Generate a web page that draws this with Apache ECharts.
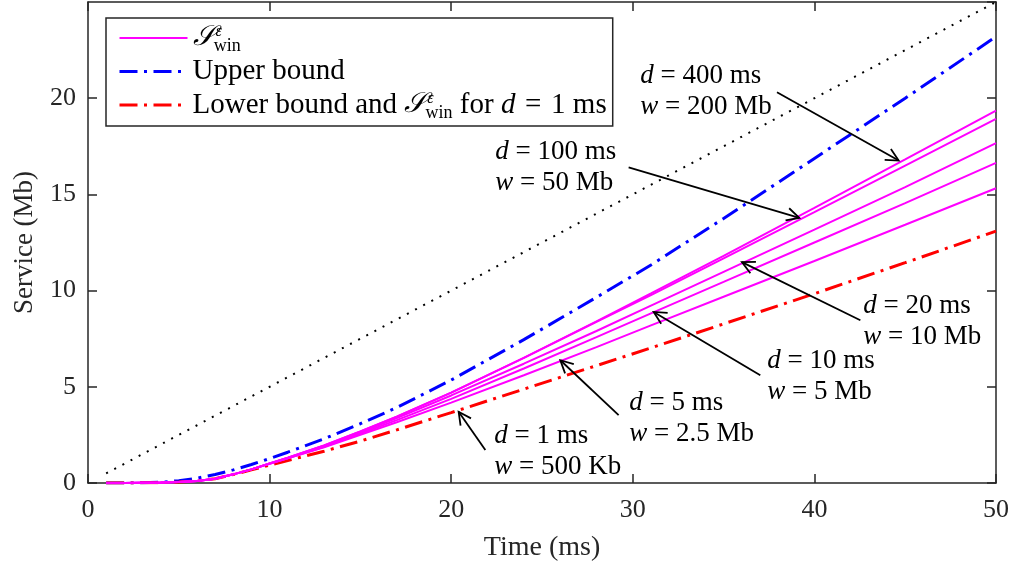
<!DOCTYPE html>
<html><head><meta charset="utf-8">
<script src="https://cdn.jsdelivr.net/npm/echarts@6/dist/echarts.min.js"></script>
<style>html,body{margin:0;padding:0;background:#fff}#c{width:1014px;height:567px}</style>
</head><body><div id="c"></div>
<script>
// ---- data ----
const timeMs     = [1,2,3,4,5,6,7,8,9,10,11,13,15,17,20,24,28,31,35,40,45,50];
const upperBound = [0,0,0.01,0.04,0.12,0.25,0.44,0.68,0.96,1.27,1.6,2.3,3.08,3.92,5.35,7.45,9.65,11.33,13.75,16.87,20.0,23.2];
const lowerBound = [0,0,0.01,0.02,0.05,0.11,0.22,0.44,0.68,0.93,1.17,1.65,2.18,2.76,3.66,4.88,6.1,7.02,8.27,9.84,11.45,13.09];
const swinD5     = [0,0,0.01,0.02,0.05,0.11,0.22,0.45,0.71,1.0,1.28,1.85,2.5,3.16,4.18,5.6,7.06,8.19,9.68,11.54,13.42,15.32];
const swinD10    = [0,0,0.01,0.02,0.05,0.11,0.22,0.45,0.71,1.0,1.29,1.88,2.56,3.27,4.37,5.95,7.58,8.82,10.45,12.5,14.55,16.64];
const swinD20    = [0,0,0.01,0.02,0.05,0.11,0.22,0.45,0.71,1.01,1.3,1.92,2.62,3.37,4.55,6.2,7.9,9.22,10.97,13.17,15.38,17.66];
const swinD100   = [0,0,0.01,0.02,0.05,0.11,0.22,0.45,0.71,1.02,1.32,1.95,2.68,3.45,4.7,6.5,8.37,9.76,11.68,14.08,16.5,18.93];
const swinD400   = [0,0,0.01,0.02,0.05,0.11,0.22,0.45,0.71,1.02,1.32,1.95,2.68,3.45,4.7,6.5,8.4,9.85,11.8,14.3,16.82,19.36];
const rateLineX  = [1, 50];
const rateLineY  = [0.5, 25];
const xTickStep = 10, yTickStep = 5;
const xRange = [0, 50], yRange = [0, 25];

// annotations: label text, label anchor (data coords, left/middle), arrow start and tip (data coords)
const annLabels = [['400 ms','200 Mb'],['100 ms','50 Mb'],['20 ms','10 Mb'],['10 ms','5 Mb'],['5 ms','2.5 Mb'],['1 ms','500 Kb']];
const annText   = [[30.41,20.37],[22.43,16.40],[42.69,8.38],[37.41,5.53],[29.81,3.35],[22.37,1.66]];
const annFrom   = [[37.94,20.31],[29.77,16.41],[42.53,8.46],[37.02,5.60],[29.22,3.53],[21.88,1.71]];
const annTip    = [[44.64,16.76],[39.17,13.78],[36.01,11.48],[31.15,8.89],[26.01,6.38],[20.41,3.70]];

// ---- chart ----
const FONT = 'Liberation Serif';
const AX = '#262626';
const pairs = arr => timeMs.map((t, i) => [t, arr[i]]);
const chart = echarts.init(document.getElementById('c'), null, {renderer: 'canvas'});

const swinSeries = [swinD5, swinD10, swinD20, swinD100, swinD400].map(a => ({
  name: 'Swin', type: 'line', data: pairs(a), symbol: 'none', smooth: false,
  lineStyle: {color: '#ff00ff', width: 2, type: 'solid'}, itemStyle: {color: '#ff00ff'}, z: 5
}));

const baseAxisX = {
  type: 'value', min: xRange[0], max: xRange[1], interval: xTickStep,
  axisLine: {show: true, onZero: false, lineStyle: {color: AX, width: 1.5}},
  axisTick: {show: true, inside: true, length: 9, lineStyle: {color: AX, width: 1.5}},
  splitLine: {show: false}
};
const baseAxisY = {
  type: 'value', min: yRange[0], max: yRange[1], interval: yTickStep,
  axisLine: {show: true, onZero: false, lineStyle: {color: AX, width: 1.5}},
  axisTick: {show: true, inside: true, length: 9, lineStyle: {color: AX, width: 1.5}},
  splitLine: {show: false}
};

const LFS = 29;
const sRich = {
  S:   {fontFamily: 'DejaVu Serif', fontStyle: 'italic', fontSize: 28, lineHeight: 34, verticalAlign: 'middle', color: '#000'},
  sup: {fontFamily: FONT, fontStyle: 'italic', fontSize: 16, lineHeight: 16, verticalAlign: 'top', color: '#000', padding: [3, 0, 0, 1]},
  sub: {fontFamily: FONT, fontSize: 18, lineHeight: 16, verticalAlign: 'bottom', color: '#000', padding: [0, 0, 0, -8]},
  it:  {fontFamily: FONT, fontStyle: 'italic', fontSize: LFS, color: '#000'}
};
const swinTxt = '{S|𝒮}{sup|ε}{sub|win}';
const dash = [18, 6.5, 3, 6.5];

chart.setOption({
  animation: false,
  backgroundColor: '#fff',
  grid: {left: 88, right: 18, top: 2, bottom: 84, containLabel: false},
  xAxis: [
    Object.assign({}, baseAxisX, {
      position: 'bottom', name: 'Time (ms)', nameLocation: 'middle', nameGap: 51,
      nameTextStyle: {fontFamily: FONT, fontSize: 28, color: AX},
      axisLabel: {fontFamily: FONT, fontSize: 26, color: AX, margin: 14}
    }),
    Object.assign({}, baseAxisX, {position: 'top', axisLabel: {show: false}})
  ],
  yAxis: [
    Object.assign({}, baseAxisY, {
      position: 'left', name: 'Service (Mb)', nameLocation: 'middle', nameGap: 50,
      nameTextStyle: {fontFamily: FONT, fontSize: 27, color: AX},
      axisLabel: {fontFamily: FONT, fontSize: 26, color: AX, margin: 12, showMaxLabel: false}
    }),
    Object.assign({}, baseAxisY, {position: 'right', axisLabel: {show: false}})
  ],
  legend: {
    orient: 'vertical', left: 106, top: 18,
    data: [
      {name: 'Swin', lineStyle: {width: 2}},
      {name: 'Upper bound', lineStyle: {width: 3}},
      {name: 'Lower bound', lineStyle: {width: 3}}
    ],
    backgroundColor: '#fff', borderColor: AX, borderWidth: 1.5, borderRadius: 0,
    padding: [3, 6, 4, 12], itemWidth: 68, itemHeight: 12, itemGap: 0,
    selectedMode: false,
    itemStyle: {opacity: 0, borderWidth: 0},
    formatter: n => n === 'Swin' ? swinTxt : (n === 'Upper bound' ? 'Upper bound' : 'Lower bound and ' + swinTxt + ' for {it|d}\u2004=\u20041 ms'),
    textStyle: {fontFamily: FONT, fontSize: LFS, color: '#000', lineHeight: 33, rich: sRich}
  },
  series: [
    {name: 'rate', type: 'line', data: rateLineX.map((x, i) => [x, rateLineY[i]]), symbol: 'none',
     lineStyle: {color: '#000', width: 2, type: [2, 7.2]}, z: 2},
    {name: 'Upper bound', type: 'line', data: pairs(upperBound), symbol: 'none', smooth: false,
     lineStyle: {color: '#0000ff', width: 3, type: dash}, itemStyle: {color: '#0000ff'}, z: 4},
    {name: 'Lower bound', type: 'line', data: pairs(lowerBound), symbol: 'none', smooth: false,
     lineStyle: {color: '#ff0000', width: 3, type: dash}, itemStyle: {color: '#ff0000'}, z: 4},
    ...swinSeries
  ]
});

// annotations (converted through the chart's own scales)
const graphics = [];
const toPx = p => chart.convertToPixel({gridIndex: 0}, p);
annLabels.forEach((lab, i) => {
  const a = toPx(annFrom[i]), b = toPx(annTip[i]), t = toPx(annText[i]);
  const dx = b[0] - a[0], dy = b[1] - a[1], L = Math.hypot(dx, dy);
  const ux = dx / L, uy = dy / L, hl = 14, ang = 27 * Math.PI / 180;
  const arm = s => [b[0] - hl * (ux * Math.cos(ang) - s * uy * Math.sin(ang)),
                    b[1] - hl * (uy * Math.cos(ang) + s * ux * Math.sin(ang))];
  graphics.push({type: 'line', shape: {x1: a[0], y1: a[1], x2: b[0], y2: b[1]}, style: {stroke: '#000', lineWidth: 1.8}, z: 10});
  graphics.push({type: 'polyline', shape: {points: [arm(1), b, arm(-1)]}, style: {stroke: '#000', lineWidth: 1.8, fill: null}, z: 10});
  graphics.push({type: 'text', x: t[0], y: t[1], z: 10, style: {
    text: '{i|d} = ' + lab[0] + '\n{i|w} = ' + lab[1],
    fontFamily: FONT, fontSize: 27, fill: '#000', lineHeight: 31,
    align: 'left', verticalAlign: 'middle',
    rich: {i: {fontFamily: FONT, fontStyle: 'italic', fontSize: 27, lineHeight: 31}}
  }});
});
chart.setOption({graphic: graphics});
</script></body></html>
